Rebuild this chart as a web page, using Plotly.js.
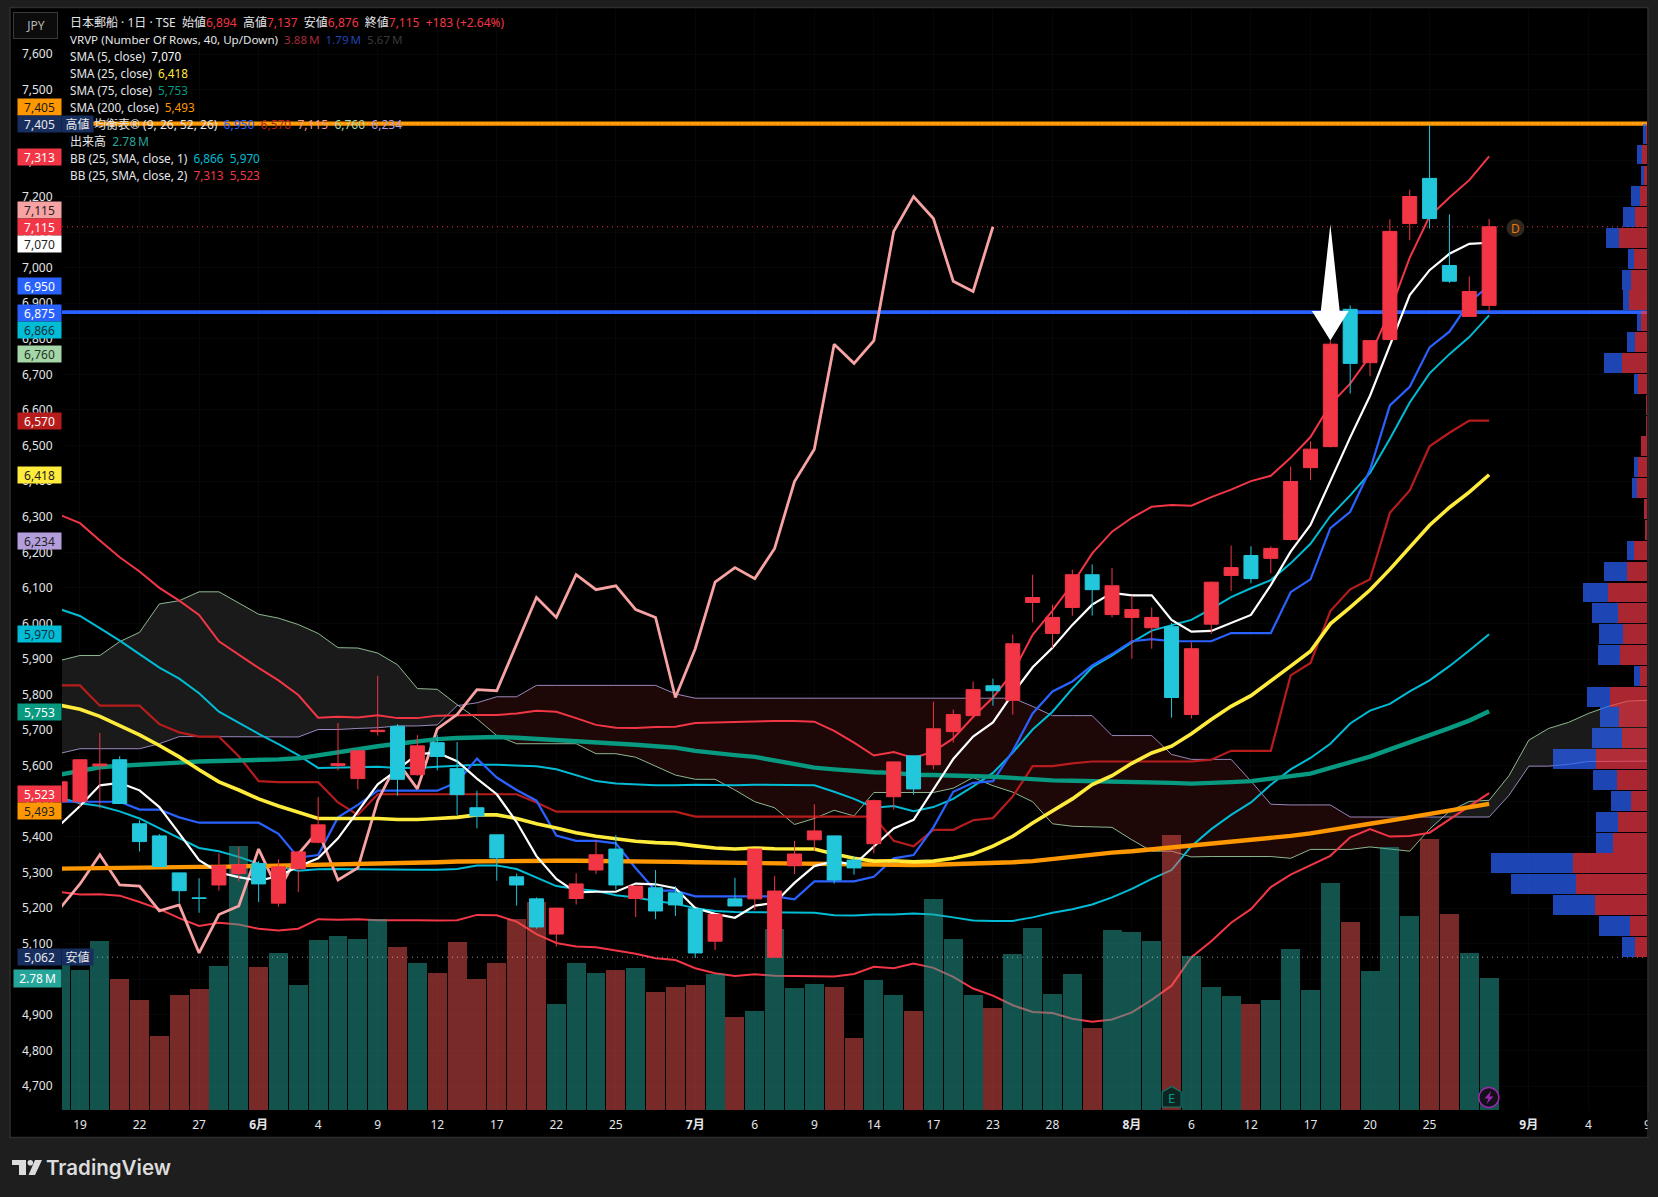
<!DOCTYPE html>
<html><head><meta charset="utf-8">
<script src="https://cdn.plot.ly/plotly-3.0.1.min.js"></script>
<style>html,body{margin:0;padding:0;background:#1e1e1e}#c{width:1658px;height:1197px}</style>
</head><body><div id="c"></div>
<script>
// ---- daily candles, bar index -1 .. 71
const OPEN=[5499,5499,5600,5617,5437,5403,5299,5229,5265,5297,5325,5214,5311,5385,5601,5564,5696,5711,5575,5665,5592,5482,5406,5288,5226,5127,5227,5307,5366,5227,5257,5243,5198,5107,5226,5226,5062,5319,5392,5403,5335,5381,5513,5628,5603,5696,5741,5825,5784,6059,5972,6045,6137,6025,6017,5988,5991,5744,5998,6135,6191,6183,6236,6438,6497,6883,6733,6798,7124,7251,7006,6863,6894];
const HIGH=[5555,5617,5692,5627,5447,5408,5299,5284,5354,5372,5332,5337,5358,5512,5720,5642,5853,5717,5686,5687,5667,5530,5406,5297,5230,5200,5298,5392,5405,5262,5307,5262,5198,5182,5285,5366,5290,5389,5492,5403,5347,5505,5611,5628,5780,5758,5837,5845,5969,6137,6053,6151,6166,6156,6078,6045,6002,5947,6118,6219,6217,6217,6441,6512,6795,6894,6795,7136,7219,7402,7150,6975,7137];
const LOW=[5499,5484,5480,5494,5359,5315,5215,5187,5249,5275,5217,5204,5245,5382,5587,5534,5685,5516,5572,5587,5462,5424,5277,5207,5142,5092,5210,5296,5252,5175,5169,5178,5060,5082,5206,5194,5062,5296,5360,5269,5294,5354,5477,5519,5590,5665,5741,5769,5744,6003,5931,6022,6022,6017,5901,5929,5735,5733,5971,6091,6113,6141,6233,6403,6495,6646,6695,6798,7077,7110,6957,6863,6876];
const CLOSE=[5555,5617,5605,5494,5387,5317,5249,5227,5319,5322,5268,5316,5358,5434,5606,5642,5700,5562,5656,5626,5519,5459,5341,5265,5147,5200,5268,5350,5265,5262,5192,5209,5074,5182,5206,5366,5248,5352,5417,5279,5313,5502,5611,5535,5704,5744,5814,5811,5943,6073,6017,6137,6095,6106,6039,6017,5792,5929,6116,6157,6126,6211,6399,6490,6785,6731,6795,7102,7200,7138,6962,6933,7115];
// ---- volume in millions, and the bar indexes drawn in red
const VOLUME=[3.40,2.94,3.55,2.75,2.31,1.55,2.43,2.54,3.04,5.55,3.02,3.30,2.63,3.57,3.66,3.59,4.02,3.43,3.09,2.89,3.53,2.75,3.09,4.02,4.37,2.24,3.09,2.88,2.94,3.00,2.48,2.60,2.63,2.86,1.95,2.08,3.82,2.56,2.66,2.60,1.51,2.73,2.43,2.08,4.44,3.61,2.42,2.14,3.28,3.84,2.45,2.86,1.72,3.78,3.74,3.55,5.78,3.25,2.58,2.39,2.24,2.31,3.40,2.52,4.77,3.95,2.92,5.53,4.08,5.70,4.12,3.30,2.78];
const VOL_RED=[2,3,4,5,6,9,16,18,19,20,21,22,23,27,29,30,31,33,38,39,42,46,51,55,59,64,68,69];
// ---- moving averages
const SMA5=[5434,5487,5545,5552,5531,5484,5410,5335,5300,5287,5277,5290,5317,5340,5396,5471,5548,5589,5633,5637,5613,5564,5520,5442,5346,5282,5244,5246,5246,5269,5267,5256,5200,5184,5173,5207,5215,5271,5318,5332,5322,5373,5424,5448,5533,5619,5682,5722,5803,5877,5932,5996,6053,6086,6079,6079,6010,5977,5979,6002,6024,6108,6202,6277,6402,6523,6640,6781,6923,6993,7039,7067,7070];
const SMA25=[5770,5759,5739,5712,5687,5657,5625,5589,5555,5532,5507,5487,5469,5452,5452,5452,5452,5449,5449,5452,5455,5462,5462,5452,5437,5425,5412,5402,5394,5388,5384,5382,5375,5369,5366,5369,5367,5366,5366,5352,5340,5332,5333,5330,5332,5340,5352,5374,5402,5439,5472,5507,5547,5572,5607,5636,5655,5690,5730,5767,5797,5837,5880,5922,5999,6045,6094,6152,6215,6276,6326,6369,6418];
const SMA75=[5575,5586,5596,5600,5604,5607,5609,5612,5613,5614,5615,5618,5621,5630,5637,5645,5655,5662,5669,5675,5678,5680,5681,5679,5676,5673,5668,5666,5663,5659,5655,5651,5642,5635,5630,5625,5616,5605,5595,5590,5585,5582,5580,5575,5574,5573,5573,5569,5566,5562,5559,5558,5557,5557,5556,5556,5552,5550,5551,5554,5557,5564,5571,5578,5594,5610,5626,5646,5665,5685,5706,5727,5753];
const SMA200=[5311,5312,5314,5315,5315,5316,5316,5316,5316,5317,5318,5319,5320,5322,5323,5324,5325,5326,5328,5329,5331,5332,5333,5334,5334,5333,5333,5333,5332,5332,5331,5330,5329,5328,5327,5326,5326,5325,5323,5322,5321,5321,5321,5321,5322,5323,5324,5326,5329,5332,5338,5344,5352,5356,5360,5365,5370,5375,5380,5385,5391,5397,5403,5410,5418,5427,5437,5446,5455,5464,5473,5481,5493];
// ---- Bollinger bands
const BB1_UPPER=[6040,6021,5987,5952,5914,5876,5845,5804,5752,5720,5690,5661,5630,5594,5595,5595,5597,5594,5594,5597,5601,5603,5603,5601,5599,5590,5574,5557,5550,5547,5545,5545,5547,5546,5545,5547,5547,5546,5545,5527,5507,5482,5487,5472,5484,5507,5542,5580,5637,5702,5752,5817,5877,5910,5947,5980,5994,6010,6041,6074,6099,6122,6169,6224,6302,6360,6423,6519,6621,6703,6757,6805,6866];
const BB1_LOWER=[5510,5495,5487,5472,5452,5425,5397,5369,5360,5344,5325,5317,5305,5309,5310,5309,5308,5308,5308,5308,5310,5320,5320,5310,5287,5262,5254,5249,5236,5230,5220,5212,5200,5192,5189,5189,5187,5187,5187,5180,5179,5182,5182,5185,5182,5174,5165,5164,5164,5174,5187,5197,5210,5230,5254,5282,5307,5374,5422,5462,5497,5547,5590,5622,5662,5719,5755,5774,5809,5840,5880,5924,5970];
const BB2_UPPER=[6305,6282,6233,6186,6146,6100,6064,6024,5950,5912,5875,5840,5799,5735,5738,5736,5742,5734,5734,5741,5743,5743,5743,5747,5755,5752,5734,5715,5707,5706,5709,5710,5720,5722,5724,5726,5726,5726,5724,5698,5665,5629,5639,5622,5640,5677,5737,5792,5862,5968,6036,6111,6197,6258,6297,6328,6333,6331,6355,6376,6400,6415,6466,6524,6616,6674,6752,6878,7028,7144,7197,7246,7313];
const BB2_LOWER=[5245,5238,5239,5235,5217,5197,5172,5150,5159,5154,5142,5137,5142,5169,5167,5169,5166,5167,5166,5165,5166,5181,5180,5162,5127,5102,5092,5090,5080,5072,5059,5054,5031,5017,5009,5014,5010,5009,5008,5008,5015,5035,5031,5044,5032,5007,4974,4954,4927,4908,4905,4889,4881,4887,4907,4942,4982,5062,5107,5159,5197,5259,5294,5320,5347,5399,5422,5401,5403,5412,5449,5484,5523];
// ---- Ichimoku
const TENKAN=[5499,5499,5499,5499,5477,5477,5455,5440,5440,5440,5440,5409,5342,5349,5455,5490,5530,5530,5530,5530,5554,5620,5567,5532,5502,5404,5389,5389,5382,5312,5249,5249,5233,5233,5233,5233,5233,5225,5275,5275,5275,5288,5340,5349,5427,5527,5552,5557,5642,5747,5809,5837,5882,5914,5950,5956,5950,5950,5950,5973,5973,5973,6088,6124,6268,6314,6432,6613,6665,6776,6820,6902,6950];
const KIJUN=[5826,5826,5769,5769,5769,5717,5694,5682,5682,5627,5557,5554,5554,5554,5497,5462,5520,5520,5520,5520,5520,5520,5520,5520,5497,5471,5471,5471,5471,5471,5471,5471,5457,5457,5457,5457,5457,5457,5457,5457,5457,5457,5389,5374,5420,5420,5447,5453,5514,5599,5599,5607,5612,5612,5612,5612,5612,5612,5617,5642,5642,5642,5854,5889,6035,6096,6124,6311,6374,6498,6536,6570,6570];
const CHIKOU=[5200,5268,5350,5265,5262,5192,5209,5074,5182,5206,5366,5248,5352,5417,5279,5313,5502,5611,5535,5704,5744,5814,5811,5943,6073,6017,6137,6095,6106,6039,6017,5792,5929,6116,6157,6126,6211,6399,6490,6785,6731,6795,7102,7200,7138,6962,6933,7115];
// span values for bar index -1 .. 79
const SPAN_A=[5896,5910,5910,5949,5975,6055,6064,6089,6089,6058,6026,6015,5997,5972,5932,5931,5917,5884,5817,5815,5772,5732,5685,5662,5662,5662,5662,5634,5634,5624,5598,5574,5562,5562,5532,5499,5482,5435,5452,5475,5459,5525,5525,5525,5525,5537,5567,5544,5526,5499,5437,5430,5429,5427,5392,5360,5360,5344,5345,5345,5345,5345,5340,5365,5365,5365,5372,5365,5360,5422,5472,5500,5503,5572,5672,5705,5722,5747,5767,5782,5784];
const SPAN_B=[5635,5648,5648,5648,5648,5662,5682,5682,5682,5681,5681,5681,5681,5702,5702,5705,5707,5712,5712,5715,5769,5777,5794,5794,5826,5826,5826,5826,5826,5826,5826,5802,5790,5790,5790,5790,5790,5790,5790,5790,5790,5790,5790,5790,5790,5790,5790,5790,5790,5767,5741,5741,5741,5685,5685,5685,5632,5618,5618,5618,5557,5492,5490,5490,5490,5456,5456,5456,5456,5456,5456,5456,5456,5517,5599,5599,5604,5612,5613,5613,5613];
// ---- horizontal levels
const HIGH_LEVEL=7405, LOW_LEVEL=5062, LAST_CLOSE=7115, BLUE_LEVEL=6875;
// ---- visible range volume
const VRVP_PRICE=[5091,5150,5209,5267,5326,5384,5443,5501,5560,5619,5677,5736,5794,5853,5912,5970,6029,6087,6146,6205,6263,6322,6380,6439,6498,6556,6615,6673,6732,6790,6849,6908,6966,7025,7083,7142,7201,7259,7318,7376];
const VRVP_UP=[35,48,147,199,207,96,82,46,85,144,71,80,105,21,77,68,82,109,57,37,7,9,29,26,18,4,4,26,71,35,18,51,46,37,80,33,21,9,15,4];
const VRVP_DOWN=[36,88,118,184,232,48,62,56,68,121,84,53,65,16,62,68,73,72,65,20,0,0,14,11,0,0,0,11,51,22,11,17,25,17,36,35,25,9,14,8];
const VRVP_ROW=58.6;
// ---- axis ticks
const X_TICK_POS=[0,3,6,9,12,15,18,21,24,27,31,34,37,40,43,46,49,53,56,59,62,65,68,73,76];
const X_TICK_TXT=["19","22","27","<b>6月</b>","4","9","12","17","22","25","<b>7月</b>","6","9","14","17","23","28","<b>8月</b>","6","12","17","20","25","<b>9月</b>","4"];
const Y_TICKS=[7600,7500,7400,7300,7200,7100,7000,6900,6800,6700,6600,6500,6400,6300,6200,6100,6000,5900,5800,5700,5600,5500,5400,5300,5200,5100,5000,4900,4800,4700];
// ---- hand drawn arrow (bar index / price)
const ARROW_X=[63,63.47,63.92,63,62.07,62.52,63];
const ARROW_Y=[7122,6878,6878,6795,6878,6878,7122];

// ---- layout constants
const W=1658,H=1197,L=62,R=1647.5,T=8,B=1110;
const XMIN=(L-80)/19.853, XMAX=(R-80)/19.853, YMAX=7729.8, YMIN=4632.6;
const px=x=>(x-L)/(R-L), py=y=>(B-y)/(B-T);
const idx=a=>a.map((_,k)=>k-1);
const RED='#F23645',CYAN='#22C7DC';
const FONT='"Noto Sans","Noto Sans CJK JP",sans-serif';

function line(name,y,color,width,axis,extra){
  return Object.assign({type:'scatter',mode:'lines',name,x:idx(y),y,yaxis:axis,hoverinfo:'skip',
    line:{color,width,shape:'linear'}},extra||{});
}
function hline(v,color,width,dash){
  return {type:'scatter',mode:'lines',x:[XMIN,XMAX],y:[v,v],yaxis:'y3',hoverinfo:'skip',line:{color,width,dash:dash||'solid'}};
}
function slice(a,from,to){ return a.slice(from+1,to+2); }
function fillPair(from,to,color){
  const xs=[];for(let k=from;k<=to;k++)xs.push(k);
  return [
    {type:'scatter',mode:'lines',x:xs,y:slice(SPAN_A,from,to),yaxis:'y',line:{width:0,color:'rgba(0,0,0,0)'},hoverinfo:'skip'},
    {type:'scatter',mode:'lines',x:xs,y:slice(SPAN_B,from,to),yaxis:'y',line:{width:0,color:'rgba(0,0,0,0)'},fill:'tonexty',fillcolor:color,hoverinfo:'skip'}
  ];
}

const traces=[
  ...fillPair(-1,19,'#1a1a1a'),
  ...fillPair(20,68,'#1d0707'),
  ...fillPair(68,79,'#1a1a1a'),
  line('span a',SPAN_A,'#A5D6A7',1,'y',{opacity:.85}),
  line('span b',SPAN_B,'#B39DDB',1,'y',{opacity:.85}),
  line('bb1u',BB1_UPPER,'#00BCD4',2,'y'),
  line('bb1l',BB1_LOWER,'#00BCD4',2,'y'),
  line('bb2u',BB2_UPPER,RED,2,'y'),
  line('bb2l',BB2_LOWER,RED,2,'y'),
  {type:'bar',name:'volume',x:idx(VOLUME),y:VOLUME,yaxis:'y2',width:0.955,hoverinfo:'skip',
    marker:{color:VOLUME.map((_,k)=>VOL_RED.includes(k-1)?'rgba(239,83,80,0.5)':'rgba(38,166,154,0.5)'),line:{width:0}}},
  hline(HIGH_LEVEL,'#FF9800',4.2),
  hline(BLUE_LEVEL,'#2962FF',3.8),
  hline(HIGH_LEVEL,'rgba(255,255,255,0.35)',1,'1px,4px'),
  hline(LAST_CLOSE,RED,1,'1px,4px'),
  hline(LOW_LEVEL,'rgba(255,255,255,0.55)',1,'1px,4px'),
  line('kijun',KIJUN,'#B71C1C',2.2,'y3'),
  line('tenkan',TENKAN,'#2962FF',2.2,'y3'),
  line('chikou',CHIKOU,'#F7A3A3',2.8,'y3'),
  line('sma200',SMA200,'#FF9800',4.4,'y3'),
  line('sma75',SMA75,'#089981',4.4,'y3'),
  line('sma25',SMA25,'#FFEB3B',3.6,'y3'),
  line('sma5',SMA5,'#FFFFFF',2.2,'y3'),
  {type:'candlestick',name:'price',x:idx(CLOSE),open:OPEN,high:HIGH,low:LOW,close:CLOSE,yaxis:'y4',hoverinfo:'skip',whiskerwidth:0,
    increasing:{line:{color:RED,width:1},fillcolor:RED},decreasing:{line:{color:CYAN,width:1},fillcolor:CYAN}},
  {type:'scatter',mode:'lines',name:'arrow',x:ARROW_X,y:ARROW_Y,yaxis:'y4',fill:'toself',fillcolor:'#FFFFFF',line:{width:0,color:'#FFFFFF'},hoverinfo:'skip'},
  {type:'bar',orientation:'h',name:'up',x:VRVP_UP,y:VRVP_PRICE,xaxis:'x2',yaxis:'y5',width:VRVP_ROW*0.955,hoverinfo:'skip',marker:{color:'rgba(242,54,69,0.7)',line:{width:0}}},
  {type:'bar',orientation:'h',name:'down',x:VRVP_DOWN,y:VRVP_PRICE,xaxis:'x2',yaxis:'y5',width:VRVP_ROW*0.955,hoverinfo:'skip',marker:{color:'rgba(41,98,255,0.7)',line:{width:0}}}
];

const hidden={overlaying:'y',side:'left',range:[YMIN,YMAX],visible:false,showgrid:false,fixedrange:true};

// ---- legend
const C_TXT='#e4e5e9';
const sp=(t,c)=>`<span style="color:${c}">${t}</span>`;
const gap='\u00a0\u00a0';
const LEGEND=[
  `日本郵船 · 1日 · TSE${gap}始値${sp('6,894',RED)}${gap}高値${sp('7,137',RED)}${gap}安値${sp('6,876',RED)}${gap}終値${sp('7,115',RED)}${gap}${sp('+183 (+2.64%)',RED)}`,
  `VRVP (Number Of Rows, 40, Up/Down)${gap}${sp('3.88\u2009M','#a32a36')}${gap}${sp('1.79\u2009M','#1e45b0')}${gap}${sp('5.67\u2009M','#3a3a3a')}`,
  `SMA (5, close)${gap}${sp('7,070','#ffffff')}`,
  `SMA (25, close)${gap}${sp('6,418','#FFEB3B')}`,
  `SMA (75, close)${gap}${sp('5,753','#089981')}`,
  `SMA (200, close)${gap}${sp('5,493','#FF9800')}`,
  `一目均衡表® (9, 26, 52, 26)${gap}${sp('6,950','#2962FF')}${gap}${sp('6,570','#B71C1C')}${gap}${sp('7,115','#EF9A9A')}${gap}${sp('6,760','#A5D6A7')}${gap}${sp('6,234','#B39DDB')}`,
  `出来高${gap}${sp('2.78\u2009M','#26A69A')}`,
  `BB (25, SMA, close, 1)${gap}${sp('6,866','#00BCD4')}${gap}${sp('5,970','#00BCD4')}`,
  `BB (25, SMA, close, 2)${gap}${sp('7,313',RED)}${gap}${sp('5,523',RED)}`
];
const LEGEND_SIZE=[12,11.6,11.7,11.7,11.7,11.7,12,12,11.8,11.8];
const LEGEND_NUDGE=[0,0,1,1,1,1,0,0,1,1];
const annotations=[];
LEGEND.forEach((t,k)=>annotations.push({xref:'paper',yref:'paper',x:px(68),y:py(22.7+17*k-LEGEND_NUDGE[k]),xanchor:'left',yanchor:'middle',showarrow:false,align:'left',text:t,font:{family:FONT,size:LEGEND_SIZE[k],color:C_TXT}}));

// ---- price badges: label, page y, background, text
const BADGES=[
 ['7,405',107,'#FF9800','#1a1a1a'],['7,405',124,'#172E5F','#e8e8e8'],['7,313',156.7,RED,'#ffffff'],
 ['7,115',209.7,'#F7A3A3','#222222'],['7,115',227,RED,'#ffffff'],['7,070',243.7,'#ffffff','#222222'],
 ['6,950',285.7,'#2962FF','#ffffff'],['6,875',313,'#2962FF','#ffffff'],['6,866',329.7,'#00BCD4','#14303a'],
 ['6,760',354,'#A5D6A7','#223322'],['6,570',421,'#B71C1C','#ffffff'],['6,418',474.7,'#FFEB3B','#222222'],
 ['6,234',541,'#B39DDB','#222222'],['5,970',633.7,'#00BCD4','#14303a'],['5,753',712,'#089981','#ffffff'],
 ['5,523',793.5,RED,'#ffffff'],['5,493',811,'#FF9800','#222222'],['5,062',957,'#172E5F','#e8e8e8']];
BADGES.forEach(b=>annotations.push({xref:'paper',yref:'paper',x:px(39.5),y:py(b[1]),xanchor:'center',yanchor:'middle',showarrow:false,width:43,height:16.4,bgcolor:b[2],borderpad:0,text:b[0],font:{family:FONT,size:12,color:b[3]}}));
[['高値',124],['安値',957]].forEach(b=>annotations.push({xref:'paper',yref:'paper',x:px(78),y:py(b[1]),xanchor:'center',yanchor:'middle',showarrow:false,width:31,height:16.4,bgcolor:'#172E5F',borderpad:0,text:b[0],font:{family:FONT,size:12,color:'#e8e8e8'}}));
const page=(text,x,y,opts)=>annotations.push(Object.assign({xref:'paper',yref:'paper',x:px(x),y:py(y),xanchor:'center',yanchor:'middle',showarrow:false,text,font:{family:FONT,size:12,color:C_TXT}},opts||{}));
page('2.78\u2009M',37.5,978.5,{width:47,height:17,bgcolor:'#26A69A',borderpad:0,font:{family:FONT,size:12,color:'#ffffff'}});
page('JPY',35.7,25,{width:43,height:25,bgcolor:'#0c0c0c',bordercolor:'#3a3a3a',borderwidth:1,borderpad:0,font:{family:FONT,size:12,color:'#b8b8b8'}});
page('D',1516,228.5,{font:{family:FONT,size:12,color:'#e87a10'}});
page('E',1172,1097.5,{font:{family:FONT,size:13,color:'#089981'}});
page('TradingView',108.5,1167.5,{font:{family:'Inter,"Noto Sans",sans-serif',size:20.5,weight:600,color:'#dcdcdc'}});
page('9',1648.5,1124,{font:{family:FONT,size:12,color:C_TXT}});
page(' ',1653.5,1124,{width:9,height:22,bgcolor:'#1e1e1e',borderpad:0});

// ---- decoration in page pixels
const P=(x,y)=>px(x)+','+py(y);
const poly=pts=>'M'+pts.map(p=>P(p[0],p[1])).join('L')+'Z';
const paperShape=(path,fill,stroke,w,layer)=>({type:'path',xref:'paper',yref:'paper',path,fillcolor:fill,line:{color:stroke||'rgba(0,0,0,0)',width:w||0},layer:layer||'above'});
const circle=(cx,cy,r,fill,stroke,w)=>({type:'circle',xref:'paper',yref:'paper',x0:px(cx-r),x1:px(cx+r),y0:py(cy+r),y1:py(cy-r),fillcolor:fill,line:{color:stroke||'rgba(0,0,0,0)',width:w||0},layer:'above'});
const shapes=[
  {type:'rect',xref:'paper',yref:'paper',x0:px(10),x1:px(1648.5),y0:py(1137.5),y1:py(7.5),fillcolor:'#000000',line:{color:'#2e2e2e',width:1.5},layer:'below'},
  circle(1516,228,9,'#33281c'),
  paperShape(poly([[1172,1086.5],[1181.5,1092],[1181.5,1107],[1162.5,1107],[1162.5,1092]]),'#0c2523','#0e7a6c',1.2),
  circle(1489.3,1097.5,10,'#14101a','#9c27b0',1.4),
  paperShape(poly([[1491.5,1091],[1485,1098.5],[1489,1098.5],[1487,1104],[1494,1096.5],[1490,1096.5]]),'#9c27b0'),
  paperShape(poly([[12,1160],[26,1160],[26,1175],[19,1175],[19,1165],[12,1165]]),'#dcdcdc'),
  circle(30.3,1162.8,2.8,'#dcdcdc'),
  paperShape(poly([[35,1160],[42,1160],[35,1175],[28.5,1175]]),'#dcdcdc')
];

const layout={
  width:W,height:H,paper_bgcolor:'#1e1e1e',plot_bgcolor:'#000000',showlegend:false,barmode:'stack',bargap:0,boxgap:0.295,boxgroupgap:0,
  margin:{l:L,r:W-R,t:T,b:H-B,pad:0},
  font:{family:FONT,color:C_TXT,size:12},
  xaxis:{range:[XMIN,XMAX],tickmode:'array',tickvals:X_TICK_POS,ticktext:X_TICK_TXT,showgrid:true,gridcolor:'#070707',zeroline:false,showline:false,ticks:'outside',ticklen:4,tickcolor:'rgba(0,0,0,0)',tickfont:{family:FONT,size:12,color:C_TXT},rangeslider:{visible:false},fixedrange:true},
  xaxis2:{overlaying:'x',anchor:'y5',range:[(R-L)*2.81,0],visible:false,showgrid:false,fixedrange:true},
  yaxis:{range:[YMIN,YMAX],tickmode:'array',tickvals:Y_TICKS,ticktext:Y_TICKS.map(v=>v.toLocaleString('en-US')),showgrid:true,gridcolor:'#070707',zeroline:false,showline:false,ticks:'outside',ticklen:6,tickcolor:'rgba(0,0,0,0)',tickfont:{family:FONT,size:12,color:C_TXT},fixedrange:true},
  yaxis2:{overlaying:'y',side:'left',range:[0,23.2],visible:false,showgrid:false,fixedrange:true},
  yaxis3:hidden,yaxis4:hidden,
  yaxis5:Object.assign({},hidden,{anchor:'x2'}),
  annotations,shapes
};
Plotly.newPlot('c',traces,layout,{staticPlot:true,displayModeBar:false});
</script></body></html>
